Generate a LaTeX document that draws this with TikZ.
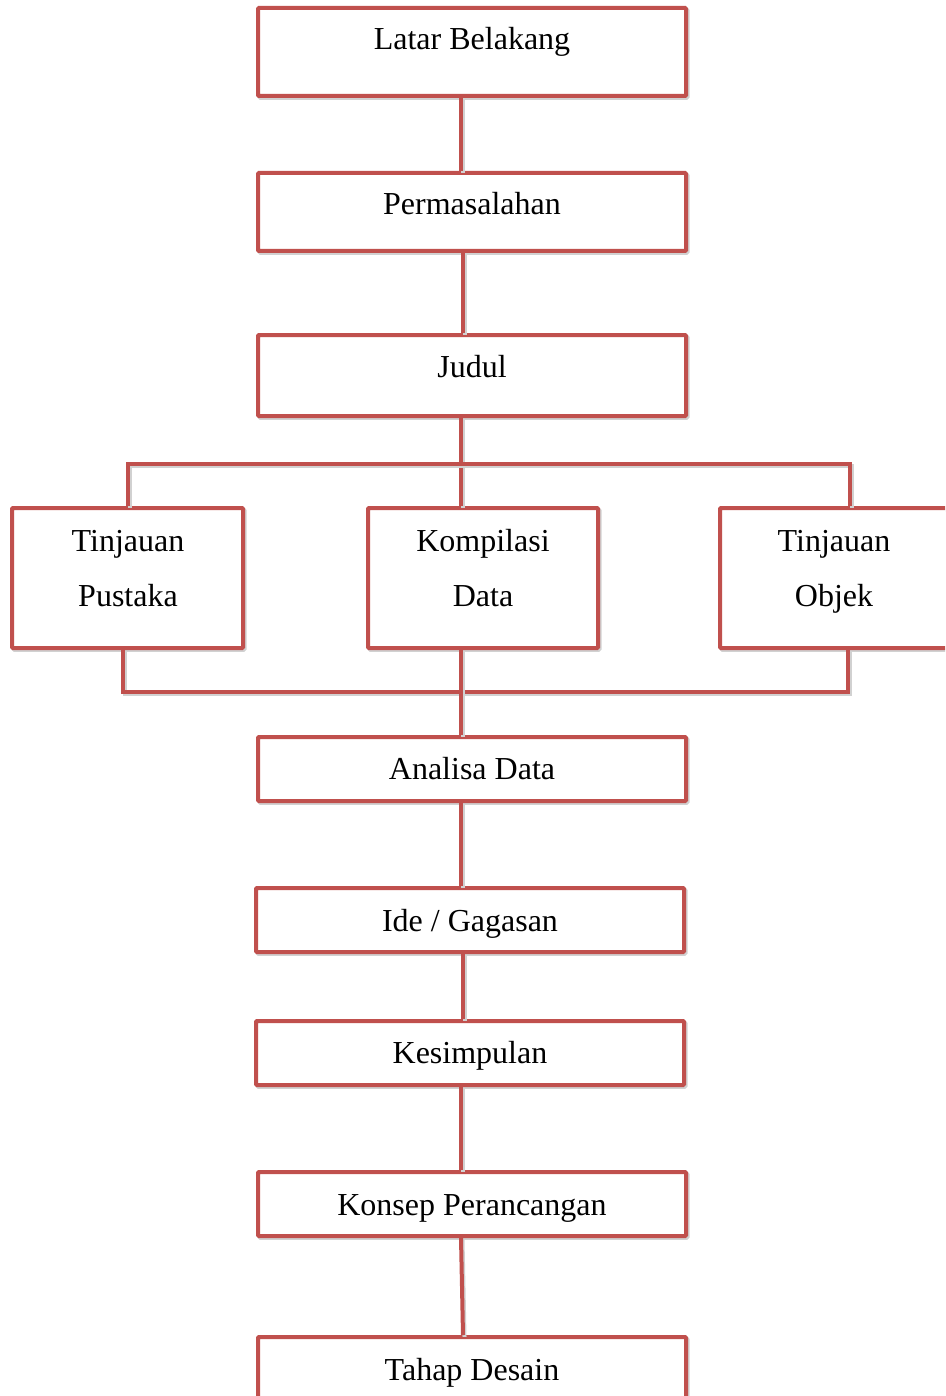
\documentclass[tikz,border=0pt]{standalone}
\usepackage{fontspec}
\setmainfont{Liberation Serif}
\definecolor{boxred}{HTML}{C0504D}
\begin{document}
\begin{tikzpicture}[x=1pt,y=-1pt,
  shadowed/.style={preaction={draw=black!18, line width=4pt, transform canvas={shift={(1.5pt,-1.8pt)}}}},
  stepbox/.style={draw=boxred, line width=4pt, rounded corners=1pt, fill=white, inner sep=0pt, shadowed},
  lbl/.style={font=\fontsize{32}{38}\selectfont, anchor=base, inner sep=0pt},
  conn/.style={draw=boxred, line width=4pt, shadowed}
]
\useasboundingbox (0,0) rectangle (945,1396);
\clip (0,0) rectangle (945,1396);
% connectors (drawn first, boxes on top)
\coordinate (busT) at (461,464);
\coordinate (tpT) at (128,464);
\coordinate (toT) at (850,464);
\coordinate (busB) at (461,692);
\coordinate (tpB) at (123,692);
\coordinate (toB) at (848,692);
% boxes
\node[stepbox, minimum width=428, minimum height=88] (lb) at (472,52) {};
\node[stepbox, minimum width=428, minimum height=78] (pm) at (472,212) {};
\node[stepbox, minimum width=428, minimum height=81] (jd) at (472,375.5) {};
\node[stepbox, minimum width=231, minimum height=140] (tp) at (127.5,578) {};
\node[stepbox, minimum width=230, minimum height=140] (kd) at (483,578) {};
\node[stepbox, minimum width=231, minimum height=140] (to) at (835.5,578) {};
\node[stepbox, minimum width=428, minimum height=64] (ad) at (472,769) {};
\node[stepbox, minimum width=428, minimum height=64] (ig) at (470,920) {};
\node[stepbox, minimum width=428, minimum height=64] (ks) at (470,1053) {};
\node[stepbox, minimum width=428, minimum height=64] (kp) at (472,1204) {};
\node[stepbox, minimum width=428, minimum height=64] (td) at (472,1369) {};
% connectors
\begin{scope}[on background layer/.style={}]
\draw[conn] ([xshift=-11pt]lb.south) -- ([xshift=-11pt]pm.north);
\draw[conn] ([xshift=-9pt]pm.south) -- ([xshift=-9pt]jd.north);
\draw[conn] (jd.south -| busT) -- (kd.north -| busT);
\draw[conn] (tp.north -| tpT) |- (toT) -- (to.north -| toT);
\draw[conn] (tp.south -| tpB) |- (toB) -- (to.south -| toB);
\draw[conn] (kd.south -| busB) -- (ad.north -| busB);
\draw[conn] ([xshift=-11pt]ad.south) -- ([xshift=-9pt]ig.north);
\draw[conn] ([xshift=-7pt]ig.south) -- ([xshift=-7pt]ks.north);
\draw[conn] ([xshift=-9pt]ks.south) -- ([xshift=-11pt]kp.north);
\draw[conn] ([xshift=-11pt]kp.south) -- ([xshift=-9pt]td.north);
\end{scope}
% texts
\node[lbl] (t1) at (472,50) {Latar Belakang};
\node[lbl] (t2) at (472,215) {Permasalahan};
\node[lbl] (t3) at (472,377) {Judul};
\node[lbl] (t4a) at (128,551) {Tinjauan};
\node[lbl] (t4b) at (128,606) {Pustaka};
\node[lbl] (t5a) at (483,551) {Kompilasi};
\node[lbl] (t5b) at (483,606) {Data};
\node[lbl] (t6a) at (834,551) {Tinjauan};
\node[lbl] (t6b) at (834,606) {Objek};
\node[lbl] (t7) at (472,779) {Analisa Data};
\node[lbl] (t8) at (470,931) {Ide / Gagasan};
\node[lbl] (t9) at (470,1063) {Kesimpulan};
\node[lbl] (t10) at (472,1215) {Konsep Perancangan};
\node[lbl] (t11) at (472,1380) {Tahap Desain};
\end{tikzpicture}
\end{document}
